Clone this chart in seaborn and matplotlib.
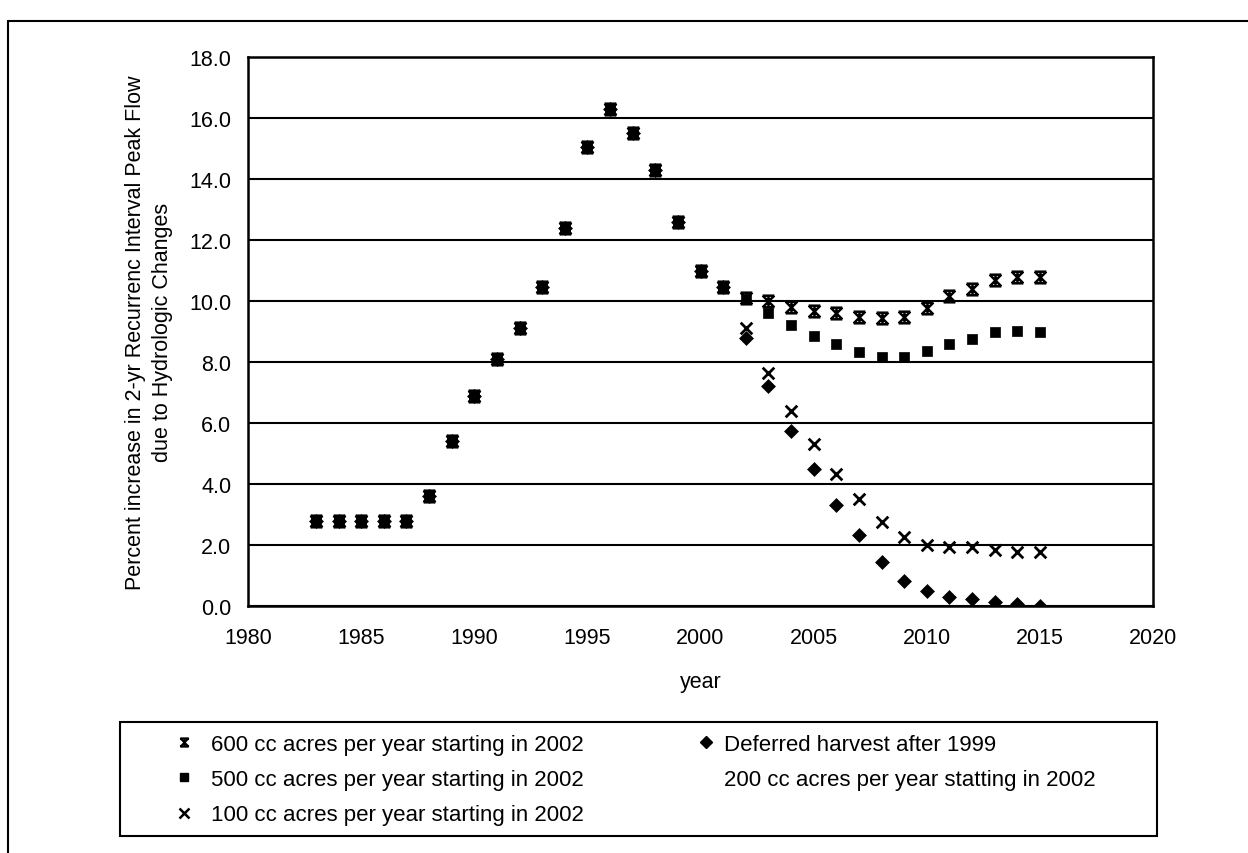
import matplotlib
matplotlib.use("Agg")
import matplotlib.pyplot as plt
from matplotlib.path import Path
from matplotlib.lines import Line2D
from matplotlib.patches import Rectangle
from matplotlib.ticker import FormatStrFormatter, MultipleLocator
import pandas as pd
import seaborn as sns

# Values shared by every scenario before the cutting schedules diverge
early_years = list(range(1983, 2002))
early_values = [2.8, 2.8, 2.8, 2.8, 2.8, 3.6, 5.4, 6.9, 8.1, 9.1, 10.45,
                12.4, 15.05, 16.3, 15.5, 14.3, 12.6, 11.0, 10.45]

# Scenario values from 2002 onward
late_years = list(range(2002, 2016))
cc600 = [10.1, 10.0, 9.8, 9.67, 9.62, 9.48, 9.44, 9.48, 9.78, 10.15, 10.4, 10.7, 10.8, 10.78]
cc500 = [10.05, 9.6, 9.2, 8.85, 8.6, 8.33, 8.15, 8.15, 8.35, 8.6, 8.75, 8.97, 9.02, 9.0]
cc100 = [9.1, 7.65, 6.4, 5.3, 4.33, 3.5, 2.75, 2.25, 2.0, 1.93, 1.93, 1.85, 1.77, 1.77]
deferred = [8.8, 7.2, 5.75, 4.5, 3.3, 2.33, 1.45, 0.82, 0.5, 0.3, 0.22, 0.12, 0.05, 0.0]

labels = ["600 cc acres per year starting in 2002",
          "500 cc acres per year starting in 2002",
          "100 cc acres per year starting in 2002",
          "Deferred harvest after 1999",
          "200 cc acres per year statting in 2002"]

x_ticks = [1980, 1985, 1990, 1995, 2000, 2005, 2010, 2015, 2020]

W, H = 1248, 854

sns.set_theme(style="white")
plt.rcParams["font.family"] = ["Liberation Sans", "DejaVu Sans"]
plt.rcParams["text.color"] = "black"
plt.rcParams["axes.labelcolor"] = "black"
plt.rcParams["xtick.color"] = "black"
plt.rcParams["ytick.color"] = "black"

# Excel-style "star": bars top and bottom with a cross and a vertical stroke
M, L = Path.MOVETO, Path.LINETO
star = Path([(-1, 1), (1, 1), (-1, -1), (1, -1), (0, 1), (0, -1),
             (-1, 1), (1, -1), (1, 1), (-1, -1)],
            [M, L, M, L, M, L, M, L, M, L])

def frame(values):
    return pd.DataFrame({"year": early_years + late_years,
                         "value": early_values + values})

fig = plt.figure(figsize=(W / 100, H / 100), dpi=100)
ax = fig.add_axes([248 / W, 1 - 607 / H, 905 / W, 549 / H])

fs = 15.5
sns.scatterplot(data=frame(cc500), x="year", y="value", ax=ax, marker="s",
                s=42, color="black", edgecolor="black", linewidth=0.5)
sns.scatterplot(data=frame(deferred), x="year", y="value", ax=ax, marker="D",
                s=50, color="black", edgecolor="black", linewidth=0.5)
sns.scatterplot(data=frame(cc100), x="year", y="value", ax=ax, marker="x",
                s=70, color="black", linewidth=2.0)
sns.scatterplot(data=frame(cc600), x="year", y="value", ax=ax, marker=star,
                s=70, color="black", edgecolor="black", linewidth=1.8)

ax.set_xlim(1980, 2020)
ax.set_ylim(0, 18)
ax.set_xticks(x_ticks)
ax.yaxis.set_major_locator(MultipleLocator(2))
ax.yaxis.set_major_formatter(FormatStrFormatter("%.1f"))
ax.grid(False)
ax.yaxis.grid(True, color="black", linewidth=1.5)
ax.set_axisbelow(True)
for sp in ax.spines.values():
    sp.set_color("black")
    sp.set_linewidth(1.8)
ax.tick_params(axis="both", direction="out", length=4, width=1.2,
               labelsize=fs, colors="black")
ax.tick_params(axis="y", pad=8)
ax.tick_params(axis="x", pad=11)
ax.set_xlabel("year", fontsize=fs, labelpad=17)
ax.set_ylabel("Percent increase in 2-yr Recurrenc Interval Peak Flow\n"
              "due to Hydrologic Changes", fontsize=fs, labelpad=12,
              linespacing=1.35)

# Legend: boxed two-column layout
lfs = 16
handles = [
    Line2D([], [], marker=star, linestyle="none", color="black",
           markersize=6, markeredgewidth=1.4),
    Line2D([], [], marker="s", linestyle="none", color="black", markersize=5.5),
    Line2D([], [], marker="x", linestyle="none", color="black",
           markersize=7, markeredgewidth=1.8),
    Line2D([], [], marker="D", linestyle="none", color="black", markersize=6),
    Line2D([], [], linestyle="none"),
]
common = dict(loc="upper left", frameon=False, borderpad=0, borderaxespad=0,
              handlelength=1.2, labelspacing=0.64, fontsize=lfs)
leg1 = fig.legend(handles[:3], labels[:3], bbox_to_anchor=(171 / W, 1 - 735 / H),
                  handletextpad=0.6, **common)
leg2 = fig.legend(handles[3:], labels[3:], bbox_to_anchor=(693 / W, 1 - 735 / H),
                  handletextpad=0.2, **common)
fig.patches.append(Rectangle((120 / W, 1 - 837 / H), (1157 - 120) / W,
                             (837 - 723) / H, transform=fig.transFigure,
                             fill=False, edgecolor="black", linewidth=1.5))

# Outer chart border (top and left edges)
fig.lines.append(Line2D([8 / W, 1.0], [1 - 22 / H, 1 - 22 / H],
                        transform=fig.transFigure, color="black", linewidth=1.5))
fig.lines.append(Line2D([8 / W, 8 / W], [1 - 22 / H, 0.0],
                        transform=fig.transFigure, color="black", linewidth=1.5))

fig.savefig("out.png", dpi=100, facecolor="white")
